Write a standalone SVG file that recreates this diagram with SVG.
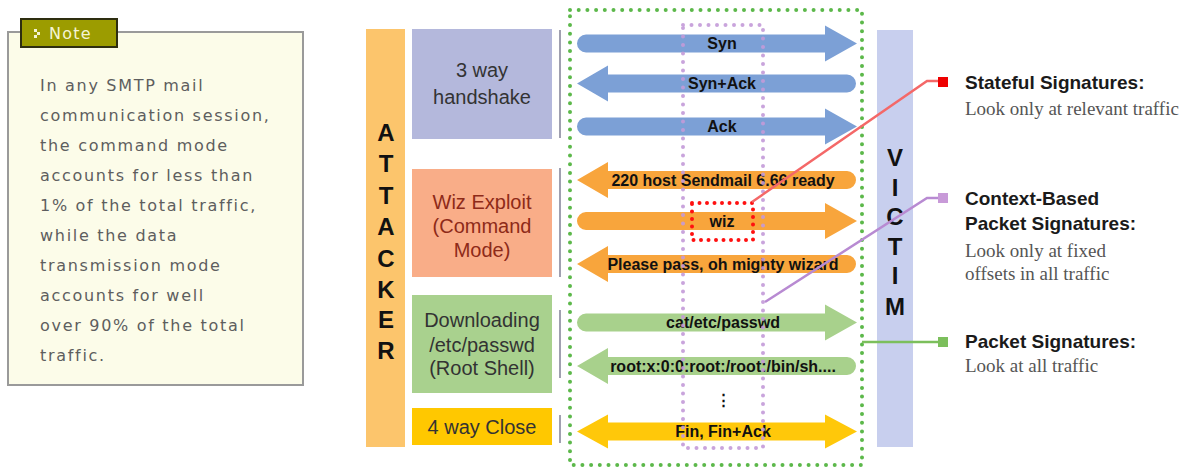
<svg xmlns="http://www.w3.org/2000/svg" xmlns:xlink="http://www.w3.org/1999/xlink" width="1186" height="468" viewBox="0 0 1186 468">
  <defs>
    <style>
      .note-txt { font-family: "DejaVu Sans", "Liberation Sans", sans-serif; font-size: 16px; fill: #5e5e5e; letter-spacing: 1.7px; }
      .big { font-family: "Liberation Sans", Arial, sans-serif; font-size: 24px; font-weight: bold; fill: #111; text-anchor: middle; }
      .phase { font-family: "Liberation Sans", Arial, sans-serif; font-size: 20px; fill: #333; text-anchor: middle; }
      .lbl { font-family: "Liberation Sans", Arial, sans-serif; font-size: 16px; font-weight: bold; fill: #111; text-anchor: middle; }
      .sig { font-family: "Liberation Sans", Arial, sans-serif; font-size: 19px; font-weight: bold; fill: #1a1a1a; }
      .desc { font-family: "Liberation Serif", "Times New Roman", serif; font-size: 19px; fill: #555; }
      .dots { fill: none; stroke-width: 4; stroke-linecap: round; }
      .vsep { stroke: #a0a0b0; stroke-width: 2; }
    </style>
    <!-- right-pointing, left-pointing and double-headed arrows, centred on y=0 -->
    <path id="arR" d="M586,-9 H825 V-18 L857,0 L825,18 V9 H586 A9,9 0 0 1 586,-9 Z"/>
    <path id="arL" d="M847,-9 H608 V-18 L577,0 L608,18 V9 H847 A9,9 0 0 0 847,-9 Z"/>
    <path id="arB" d="M608,-9 H825 V-17 L857,0 L825,17 V9 H608 V17 L577,0 L608,-17 Z"/>
  </defs>

  <rect width="1186" height="468" fill="#ffffff"/>

  <!-- note panel -->
  <g id="note">
    <rect x="8" y="32" width="295" height="353" fill="#fcfce9" stroke="#9a9a9a" stroke-width="2"/>
    <rect x="21" y="19" width="96" height="28" fill="#9c9c00" stroke="#2e2e10" stroke-width="2"/>
    <g fill="#f4f4d4">
      <rect x="34" y="29" width="3" height="3"/>
      <rect x="37" y="32" width="3" height="3"/>
      <rect x="34" y="35" width="3" height="3"/>
    </g>
    <text x="49" y="39" style="font-family:'DejaVu Sans','Liberation Sans',sans-serif;font-size:16px;letter-spacing:1.2px;fill:#f4f4d4">Note</text>
    <text class="note-txt" x="40" y="91">In any SMTP mail</text>
    <text class="note-txt" x="40" y="121">communication session,</text>
    <text class="note-txt" x="40" y="151">the command mode</text>
    <text class="note-txt" x="40" y="181">accounts for less than</text>
    <text class="note-txt" x="40" y="211">1% of the total traffic,</text>
    <text class="note-txt" x="40" y="241">while the data</text>
    <text class="note-txt" x="40" y="271">transmission mode</text>
    <text class="note-txt" x="40" y="301">accounts for well</text>
    <text class="note-txt" x="40" y="331">over 90% of the total</text>
    <text class="note-txt" x="40" y="361">traffic.</text>
  </g>

  <!-- attacker column -->
  <g id="attacker">
    <rect x="366" y="29" width="39" height="418" fill="#fcc56c"/>
    <text class="big" x="386" y="141">A</text>
    <text class="big" x="386" y="172">T</text>
    <text class="big" x="386" y="204">T</text>
    <text class="big" x="386" y="235">A</text>
    <text class="big" x="386" y="267">C</text>
    <text class="big" x="386" y="298">K</text>
    <text class="big" x="386" y="328">E</text>
    <text class="big" x="386" y="359">R</text>
  </g>

  <!-- session phases -->
  <g id="phase-handshake">
    <rect x="412" y="29" width="140" height="110" fill="#b4b8dc"/>
    <text class="phase" x="482" y="77">3 way</text>
    <text class="phase" x="482" y="104">handshake</text>
  </g>
  <g id="phase-wiz">
    <rect x="412" y="169" width="140" height="108" fill="#f9ad88"/>
    <text class="phase" x="482" y="209" style="fill:#8e2a18">Wiz Exploit</text>
    <text class="phase" x="482" y="233" style="fill:#8e2a18">(Command</text>
    <text class="phase" x="482" y="257" style="fill:#8e2a18">Mode)</text>
  </g>
  <g id="phase-download">
    <rect x="412" y="295" width="140" height="98" fill="#a9d18e"/>
    <text class="phase" x="482" y="327">Downloading</text>
    <text class="phase" x="482" y="352">/etc/passwd</text>
    <text class="phase" x="482" y="375">(Root Shell)</text>
  </g>
  <g id="phase-close">
    <rect x="412" y="408" width="140" height="37" fill="#ffc800"/>
    <text class="phase" x="482" y="434">4 way Close</text>
  </g>

  <!-- phase brackets -->
  <g id="brackets">
    <line class="vsep" x1="560" y1="30" x2="560" y2="138"/>
    <line class="vsep" x1="560" y1="168" x2="560" y2="277"/>
    <line class="vsep" x1="560" y1="310" x2="560" y2="378"/>
    <line class="vsep" x1="560" y1="415" x2="560" y2="443"/>
  </g>

  <!-- victim column -->
  <g id="victim">
    <rect x="877" y="30" width="36" height="417" fill="#c8cfee"/>
    <text class="big" x="895" y="166">V</text>
    <text class="big" x="895" y="196">I</text>
    <text class="big" x="895" y="225">C</text>
    <text class="big" x="895" y="255">T</text>
    <text class="big" x="895" y="284">I</text>
    <text class="big" x="895" y="315">M</text>
  </g>

  <!-- packet flow -->
  <g id="packets">
    <use xlink:href="#arR" href="#arR" y="43.5" fill="#7ca0d6"/>
    <text class="lbl" x="722" y="49">Syn</text>
    <use xlink:href="#arL" href="#arL" y="83.5" fill="#7ca0d6"/>
    <text class="lbl" x="722" y="89">Syn+Ack</text>
    <use xlink:href="#arR" href="#arR" y="126.5" fill="#7ca0d6"/>
    <text class="lbl" x="722" y="132">Ack</text>

    <use xlink:href="#arL" href="#arL" y="180" fill="#f8a53c"/>
    <text class="lbl" x="723" y="186">220 host Sendmail 6.66 ready</text>
    <use xlink:href="#arR" href="#arR" y="221" fill="#f8a53c"/>
    <text class="lbl" x="722" y="227">wiz</text>
    <use xlink:href="#arL" href="#arL" y="264" fill="#f8a53c"/>
    <text class="lbl" x="723" y="270">Please pass, oh mighty wizard</text>

    <use xlink:href="#arR" href="#arR" y="322.5" fill="#a8d18c"/>
    <text class="lbl" x="723" y="328">cat/etc/passwd</text>
    <use xlink:href="#arL" href="#arL" y="366" fill="#a8d18c"/>
    <text class="lbl" x="723" y="372">root:x:0:0:root:/root:/bin/sh....</text>

    <text class="lbl" x="723" y="405" style="font-size:15px">⋮</text>

    <use xlink:href="#arB" href="#arB" y="431.5" fill="#ffc80a"/>
    <text class="lbl" x="723" y="437">Fin, Fin+Ack</text>
  </g>

  <!-- inspection windows -->
  <g id="windows">
    <rect class="dots" x="570" y="10" width="292" height="455" stroke="#5cb84a" stroke-dasharray="0 8.7"/>
    <rect class="dots" x="683" y="25" width="80" height="423" stroke="#c39ad8" stroke-dasharray="0 8.5" opacity="0.9"/>
    <rect class="dots" x="692" y="203" width="61" height="37" stroke="#ff1010" stroke-dasharray="0 7.5"/>
  </g>

  <!-- signature callouts -->
  <g id="connectors" fill="none" stroke-width="2.5">
    <polyline points="752,202 927,81 940,81" stroke="#f46868"/>
    <polyline points="765,302 927,198 940,198" stroke="#b88ad2"/>
    <polyline points="862,342 940,342" stroke="#7cbf5c"/>
  </g>

  <g id="sig-stateful">
    <rect x="938" y="77" width="10" height="10" fill="#ee0000"/>
    <text class="sig" x="965" y="89">Stateful Signatures:</text>
    <text class="desc" x="965" y="115">Look only at relevant traffic</text>
  </g>
  <g id="sig-context">
    <rect x="938" y="193" width="10" height="10" fill="#c89ad8"/>
    <text class="sig" x="965" y="205">Context-Based</text>
    <text class="sig" x="965" y="230">Packet Signatures:</text>
    <text class="desc" x="965" y="257">Look only at fixed</text>
    <text class="desc" x="965" y="280">offsets in all traffic</text>
  </g>
  <g id="sig-packet">
    <rect x="938" y="337" width="10" height="10" fill="#7cbf5c"/>
    <text class="sig" x="965" y="348">Packet Signatures:</text>
    <text class="desc" x="965" y="372">Look at all traffic</text>
  </g>
</svg>
